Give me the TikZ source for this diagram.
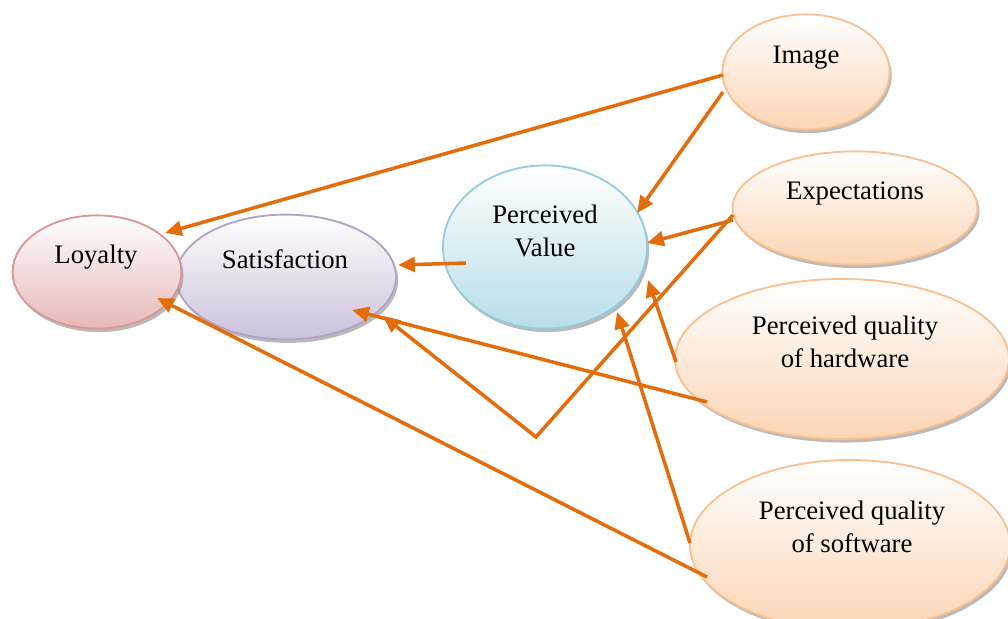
\documentclass[tikz,border=0pt]{standalone}
\usepackage{fontspec}
\setmainfont{Liberation Serif}
\usetikzlibrary{arrows.meta, shapes.geometric, shadows, calc}
\definecolor{smorange}{HTML}{E46C0A}
\definecolor{smred}{HTML}{D99694}
\definecolor{smredfill}{HTML}{E6B9B8}
\definecolor{smpurple}{HTML}{B3A2C7}
\definecolor{smpurplefill}{HTML}{CCC1DA}
\definecolor{smblue}{HTML}{93CDDD}
\definecolor{smbluefill}{HTML}{B7DEE8}
\definecolor{smpeach}{HTML}{FAC090}
\definecolor{smpeachfill}{HTML}{FCD5B5}

\begin{document}
\begin{tikzpicture}[
  x=0.025cm, y=-0.025cm,
  every node/.style={font=\fontsize{19}{23.5}\selectfont},
  construct/.style={ellipse, line width=1.3pt, inner sep=0pt, top color=white,
    drop shadow={shadow xshift=1.5pt, shadow yshift=-2.5pt, fill=black!45, opacity=0.6}},
  lbl/.style={align=center, inner sep=0pt},
  link/.style={draw=smorange, line width=2.5pt, -{Triangle[length=12pt, width=10.5pt]}},
]
\useasboundingbox (0,0) rectangle (1008,619);

\node[construct, draw=smpurple, bottom color=smpurplefill, minimum width=5.5cm, minimum height=3.12cm] (sat) at (286,277) {};
\node[construct, draw=smred, bottom color=smredfill, minimum width=4.22cm, minimum height=2.83cm] (loy) at (97,272) {};
\node[construct, draw=smblue, bottom color=smbluefill, minimum width=5.1cm, minimum height=4.08cm] (pv) at (545,247) {};
\node[construct, draw=smpeach, bottom color=smpeachfill, minimum width=4.18cm, minimum height=2.88cm] (img) at (806,72) {};
\node[construct, draw=smpeach, bottom color=smpeachfill, minimum width=6.12cm, minimum height=2.83cm] (exp) at (855,208) {};
\node[construct, draw=smpeach, bottom color=smpeachfill, minimum width=8.35cm, minimum height=4.0cm] (hw) at (842,359) {};
\node[construct, draw=smpeach, bottom color=smpeachfill, minimum width=8.0cm, minimum height=4.25cm] (sw) at (850,545) {};

\node[lbl] (loyt) at (96,257) {Loyalty};
\node[lbl] (satt) at (285,259) {Satisfaction};
\node[lbl] (pvt) at (545,231) {Perceived\\Value};
\node[lbl] (imgt) at (806,58) {Image};
\node[lbl] (expt) at (855,193) {Expectations};
\node[lbl] (hwt) at (845,342) {Perceived quality\\of hardware};
\node[lbl] (swt) at (852,527) {Perceived quality\\of software};

% Paths
\coordinate (bend) at (536,437);
\draw[link] ([shift={(-83,3)}]img.center) -- ([shift={(68,-39)}]loy.center);
\draw[link] ([shift={(-83,20)}]img.center) -- ([shift={(92,-34)}]pv.center);
\draw[link] ([shift={(-122,12)}]exp.center) -- ([shift={(102,-4)}]pv.center);
\draw[link] ([shift={(-122,7)}]exp.center) -- (bend) -- ([shift={(97,39)}]sat.center);
\draw[link] ([shift={(-135,43)}]hw.center) -- ([shift={(66,33)}]sat.center);
\draw[link] ([shift={(-166,3)}]hw.center) -- ([shift={(103,33)}]pv.center);
\draw[link] ([shift={(-160,-2)}]sw.center) -- ([shift={(72,65)}]pv.center);
\draw[link] ([shift={(-143,32)}]sw.center) -- ([shift={(60,26)}]loy.center);
\draw[link] ([shift={(-79,16)}]pv.center) -- ([shift={(112,-12)}]sat.center);
\end{tikzpicture}
\end{document}
